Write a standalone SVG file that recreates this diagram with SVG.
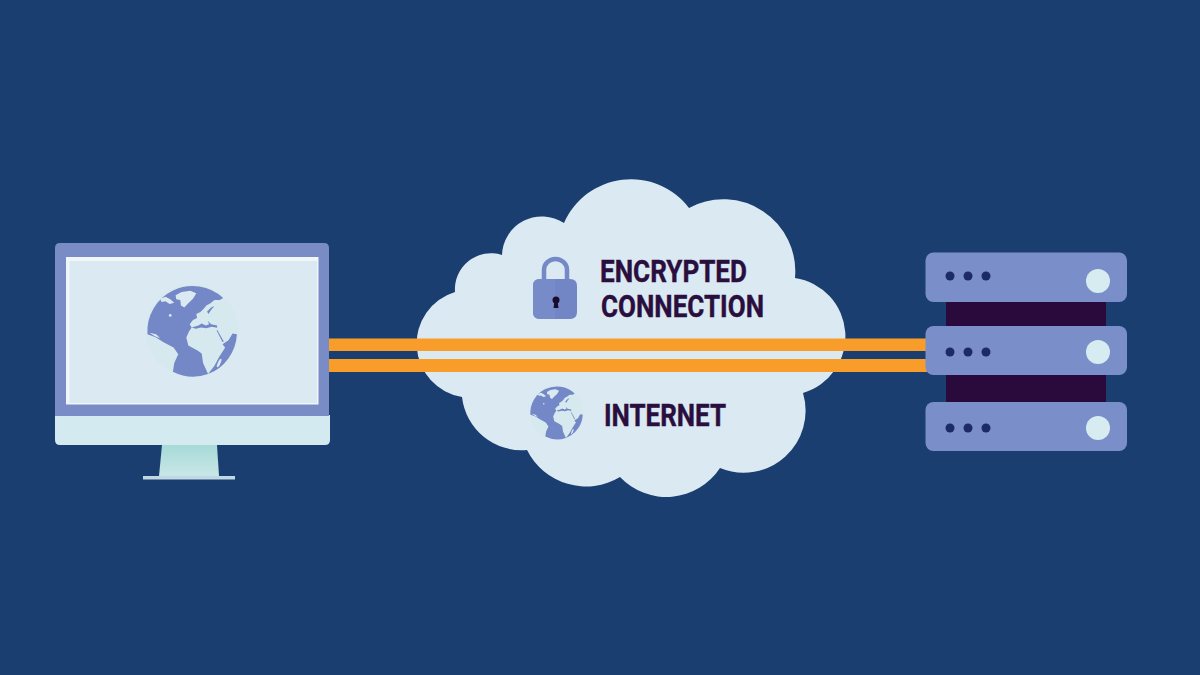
<svg xmlns="http://www.w3.org/2000/svg" xmlns:xlink="http://www.w3.org/1999/xlink" width="1200" height="675" viewBox="0 0 1200 675">
  <style>
    .label { font-family: Roboto, "Liberation Sans", sans-serif; font-weight: 700; font-size: 31px; fill: #2a0f3e; stroke: #2a0f3e; stroke-width: 0.4px; }
    .unit { fill: #7a8fc9; }
    .rack { fill: #2a0a3d; }
    .dot { fill: #1c2a66; }
    .led { fill: #d7ecf1; }
    .bar { fill: #f99d2a; }
    .ocean { fill: #7487c6; }
    .land { fill: #dbe9f2; }
  </style>
  <defs>
    <linearGradient id="standFill" x1="0" y1="0" x2="0" y2="1">
      <stop offset="0" stop-color="#a6dad8"/>
      <stop offset="1" stop-color="#c8e7e6"/>
    </linearGradient>
    <!-- Globe on a local grid centred at 157,165 with radius 135 -->
    <g id="globe">
      <circle cx="157" cy="165" r="137" fill="#d5e9ef"/>
      <path class="ocean" d="M24,176 A135,135 0 0 1 250,68 L240,74 L224,74 L212,84 L200,90 L192,100 L182,110 L170,116 L172,128 L160,134 L150,146 L156,156 L148,168 L140,186 L146,210 L172,224 L186,234 L190,262 L205,295 A135,135 0 0 1 100,288 L104,262 L116,236 L102,216 L72,200 L50,186 Z"/>
      <path class="ocean" d="M291,176 A135,135 0 0 1 205,295 L224,270 L238,244 L256,216 L248,206 L266,194 L278,174 Z"/>
      <path class="ocean" d="M156,156 L176,150 L186,144 L198,150 L208,146 L204,136 L214,146 L232,150 L232,157 L216,154 L200,158 L184,156 L168,160 Z"/>
      <path class="ocean" d="M230,164 L233,164 L252,198 L248,199 Z"/>
      <path class="ocean" d="M202,108 L214,96 L224,92 L214,104 L206,116 Z"/>
      <path class="land" d="M108,60 L126,50 L152,46 L170,54 L160,70 L146,84 L134,96 L124,90 L122,74 L110,72 Z"/>
      <path class="land" d="M62,70 L78,64 L92,72 L104,82 L90,86 L78,78 L66,80 Z"/>
      <circle class="land" cx="92" cy="120" r="4"/>
      <ellipse class="land" cx="238" cy="262" rx="4" ry="14" transform="rotate(24 238 262)"/>
      <path class="land" d="M30,172 L50,176 L62,188 L46,182 Z"/>
    </g>
  </defs>

  <rect id="background" width="1200" height="675" fill="#1a3e70"/>

  <g id="cloud">
    <path fill="#dbe9f2" d="M564,223 A73,73 0 0 1 689,208 A72,72 0 0 1 795,278 A59,59 0 0 1 803,393 A62,62 0 0 1 720,468 A64,64 0 0 1 620,477 A66,66 0 0 1 527,450 A60,60 0 0 1 462,397 A54,54 0 0 1 455,292 A36,36 0 0 1 502,255 A40,40 0 0 1 564,223 Z"/>
  </g>

  <g id="connectors">
    <rect class="bar" x="329" y="338.500" width="598" height="12.500"/>
    <rect class="bar" x="329" y="359" width="598" height="13"/>
  </g>

  <g id="computer">
    <path fill="url(#standFill)" d="M162,445 H217 L219,476 H159 Z"/>
    <rect x="143" y="476" width="92" height="3.500" fill="#c0d8e4"/>
    <path fill="#d3ebf0" d="M55,415 H330 V440 Q330,445 325,445 H60 Q55,445 55,440 Z"/>
    <path fill="#7a8cc6" d="M55,248 Q55,243 60,243 H324 Q329,243 329,248 V416 H55 Z"/>
    <rect x="66" y="257" width="252.500" height="147.500" fill="#f1f6fa"/>
    <rect x="69.500" y="261" width="247.500" height="142" fill="#dbe9f2"/>
    <use xlink:href="#globe" href="#globe" transform="translate(192 330.500) scale(0.335) translate(-157 -165)"/>
  </g>

  <g id="lock">
    <path d="M544,282 V270 A11.500,11 0 0 1 567,270 V282" fill="none" stroke="#7589c6" stroke-width="4.500"/>
    <path fill="#7285c4" d="M540,279 H570 Q577,279 577,286 V312 Q577,319 570,319 H540 Q533,319 533,312 V286 Q533,279 540,279 Z"/>
    <path fill="#788bc9" d="M540,279 H555 V319 H540 Q533,319 533,312 V286 Q533,279 540,279 Z"/>
    <circle cx="556" cy="300" r="3.500" fill="#170c2c"/>
    <path fill="#170c2c" d="M554.500,301 H557.500 L558.500,308 H553.500 Z"/>
  </g>

  <g id="encrypted-connection">
    <text class="label" x="600" y="282" textLength="147" lengthAdjust="spacingAndGlyphs">ENCRYPTED</text>
    <text class="label" x="601" y="317" textLength="163" lengthAdjust="spacingAndGlyphs">CONNECTION</text>
  </g>

  <g id="internet">
    <use xlink:href="#globe" href="#globe" transform="translate(556.500 412.500) scale(0.196) translate(-157 -165)"/>
    <text class="label" x="604" y="426" textLength="122" lengthAdjust="spacingAndGlyphs">INTERNET</text>
  </g>

  <g id="server">
    <rect class="rack" x="946" y="300" width="160" height="28"/>
    <rect class="rack" x="946" y="373" width="160" height="31"/>
    <rect class="unit" x="925.500" y="252.500" width="201.500" height="49.500" rx="8"/>
    <rect class="unit" x="925.500" y="326" width="201.500" height="49" rx="8"/>
    <rect class="unit" x="925.500" y="402" width="201.500" height="49" rx="8"/>
    <circle class="dot" cx="950" cy="276" r="4.500"/>
    <circle class="dot" cx="968" cy="276" r="4.500"/>
    <circle class="dot" cx="986" cy="276" r="4.500"/>
    <circle class="dot" cx="950" cy="352" r="4.500"/>
    <circle class="dot" cx="968" cy="352" r="4.500"/>
    <circle class="dot" cx="986" cy="352" r="4.500"/>
    <circle class="dot" cx="950" cy="428" r="4.500"/>
    <circle class="dot" cx="968" cy="428" r="4.500"/>
    <circle class="dot" cx="986" cy="428" r="4.500"/>
    <circle class="led" cx="1098" cy="281" r="12"/>
    <circle class="led" cx="1098" cy="352" r="12"/>
    <circle class="led" cx="1098" cy="428" r="12"/>
  </g>
</svg>
